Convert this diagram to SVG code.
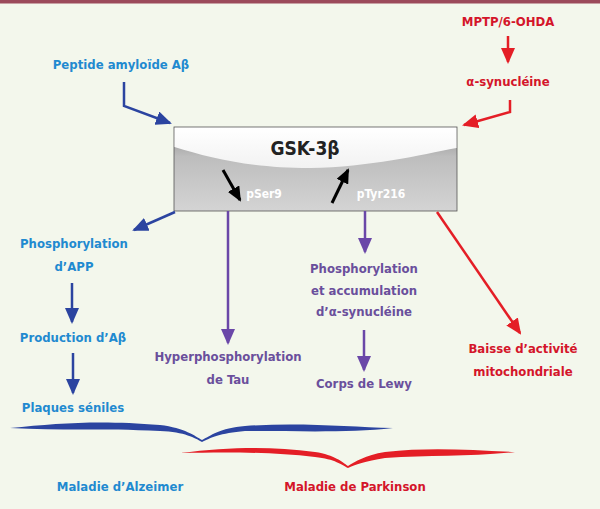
<svg xmlns="http://www.w3.org/2000/svg" width="600" height="509" viewBox="0 0 600 509">
<style>
text{font-family:"DejaVu Sans Condensed","DejaVu Sans","Liberation Sans",sans-serif;font-weight:bold;font-size:13px;text-anchor:middle}
.lb{fill:#1f8ad0}.pu{fill:#6a4f9c}.rd{fill:#d4152a}
.wt{fill:#ffffff;font-size:12px}
.ab{stroke:#2b44a0;stroke-width:2.5;fill:none}
.ap{stroke:#6a47a8;stroke-width:2.5;fill:none}
.ar{stroke:#e41e26;stroke-width:2.5;fill:none}
.ak{stroke:#000;stroke-width:3;fill:none}
</style>
<defs>
<marker id="mbb" markerWidth="16" markerHeight="14" refX="14" refY="7" orient="auto" markerUnits="userSpaceOnUse" viewBox="0 0 16 14"><path d="M0,0L16,7L0,14z" fill="#2b44a0"/></marker>
<marker id="mp" markerWidth="16" markerHeight="14" refX="14" refY="7" orient="auto" markerUnits="userSpaceOnUse" viewBox="0 0 16 14"><path d="M0,0L16,7L0,14z" fill="#6a47a8"/></marker>
<marker id="mr" markerWidth="16" markerHeight="14" refX="14" refY="7" orient="auto" markerUnits="userSpaceOnUse" viewBox="0 0 16 14"><path d="M0,0L16,7L0,14z" fill="#e41e26"/></marker>
<marker id="mk" markerWidth="15" markerHeight="13" refX="13" refY="6.5" orient="auto" markerUnits="userSpaceOnUse" viewBox="0 0 15 13"><path d="M0,0L15,6.5L0,13z" fill="#000"/></marker>
<linearGradient id="gb" x1="0" y1="0" x2="0" y2="1">
<stop offset="0" stop-color="#8c8c8c"/><stop offset="0.35" stop-color="#bdbdbd"/><stop offset="1" stop-color="#d4d4d4"/></linearGradient>
<linearGradient id="gt" x1="0" y1="0" x2="0" y2="1">
<stop offset="0" stop-color="#ffffff"/><stop offset="1" stop-color="#f2f2f2"/></linearGradient>
</defs>
<rect width="600" height="509" fill="#f3f7ec"/>
<rect width="600" height="3.5" fill="#9b4a5b"/>

<g id="gsk3b">
<rect x="174" y="127" width="283" height="84" fill="url(#gb)" stroke="#555" stroke-width="0.8"/>
<path d="M174.5,127.5H456.5V148C420,155 370,167 310,168C250,168 210,158 174.5,147Z" fill="url(#gt)"/>
<text x="305" y="155" style="font-size:19px;fill:#222">GSK-3β</text>
<text class="wt" x="264" y="198">pSer9</text>
<text class="wt" x="381" y="198">pTyr216</text>
<line class="ak" x1="223" y1="170" x2="240" y2="200" marker-end="url(#mk)"/>
<line class="ak" x1="332" y1="203" x2="348" y2="170" marker-end="url(#mk)"/>
</g>

<g id="peptide"><text class="lb" x="121" y="69">Peptide amyloïde Aβ</text></g>
<g id="mptp"><text class="rd" x="508" y="26">MPTP/6-OHDA</text></g>
<g id="synucleine"><text class="rd" x="508" y="86">α-synucléine</text></g>
<g id="phos-app"><text class="lb" x="74" y="248">Phosphorylation</text><text class="lb" x="74" y="271">d’APP</text></g>
<g id="prod-ab"><text class="lb" x="73" y="342">Production d’Aβ</text></g>
<g id="plaques"><text class="lb" x="73" y="412">Plaques séniles</text></g>
<g id="hyper-tau"><text class="pu" x="228" y="361">Hyperphosphorylation</text><text class="pu" x="228" y="384">de Tau</text></g>
<g id="phos-syn"><text class="pu" x="364" y="273">Phosphorylation</text><text class="pu" x="364" y="295">et accumulation</text><text class="pu" x="364" y="316">d’α-synucléine</text></g>
<g id="lewy"><text class="pu" x="364" y="388">Corps de Lewy</text></g>
<g id="mito"><text class="rd" x="523" y="353">Baisse d’activité</text><text class="rd" x="523" y="376">mitochondriale</text></g>
<g id="alzheimer"><text class="lb" x="120" y="491">Maladie d’Alzeimer</text></g>
<g id="parkinson"><text class="rd" x="355" y="491">Maladie de Parkinson</text></g>

<g id="braces">
<path d="M10,428C60,423 100,420 160,425C185,428 195,436 202,440C210,436 220,428 245,426C300,422 350,427 393,428C350,433 300,431 245,431C220,433 210,438 202,442C195,438 185,432 160,431C100,428 60,431 10,428Z" fill="#2b44a0"/>
<path d="M180,453C230,447 270,446 315,452C335,455 342,462 348,466C355,462 365,455 385,452C430,447 470,450 515,452C470,457 430,455 385,458C365,461 355,465 348,468C342,465 335,459 315,457C270,452 230,452 180,453Z" fill="#e41e26"/>
</g>

<g id="connectors">
<polyline class="ab" points="124,82 124,106 170,123" marker-end="url(#mbb)"/>
<line class="ar" x1="508" y1="36" x2="508" y2="62" marker-end="url(#mr)"/>
<polyline class="ar" points="510,100 510,112 464,125" marker-end="url(#mr)"/>
<line class="ab" x1="175" y1="212" x2="134" y2="230" marker-end="url(#mbb)"/>
<line class="ab" x1="72" y1="283" x2="72" y2="322" marker-end="url(#mbb)"/>
<line class="ab" x1="73" y1="353" x2="73" y2="393" marker-end="url(#mbb)"/>
<line class="ap" x1="228" y1="211" x2="228" y2="343" marker-end="url(#mp)"/>
<line class="ap" x1="365" y1="211" x2="365" y2="252" marker-end="url(#mp)"/>
<line class="ap" x1="364" y1="330" x2="364" y2="370" marker-end="url(#mp)"/>
<line class="ar" x1="437" y1="212" x2="520" y2="333" marker-end="url(#mr)"/>
</g>
</svg>
